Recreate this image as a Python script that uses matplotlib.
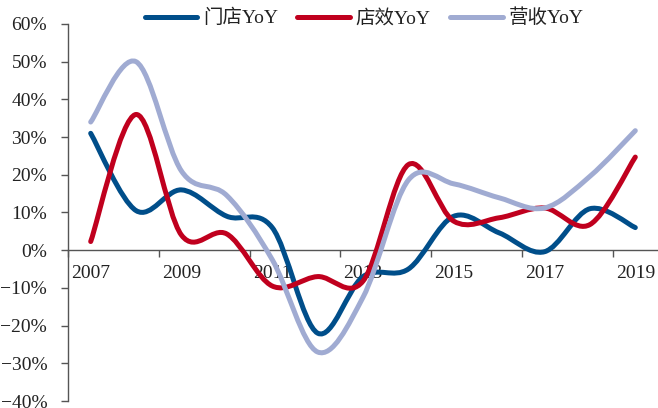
import matplotlib
matplotlib.use("Agg")
import matplotlib.pyplot as plt
from matplotlib.path import Path
from matplotlib.patches import PathPatch
from matplotlib.lines import Line2D
from matplotlib.ticker import FixedLocator, FuncFormatter

plt.rcParams['font.family'] = ['Liberation Serif', 'Noto Sans CJK SC']

years = [2007, 2008, 2009, 2010, 2011, 2012, 2013, 2014, 2015, 2016, 2017, 2018, 2019]
labels_shown = ['2007', '2009', '2011', '2013', '2015', '2017', '2019']

store_yoy = [31, 10.5, 16, 9, 6, -22, -7, -5, 9, 4.6, -0.4, 11, 6]
sales_per_store_yoy = [2.3, 36, 4, 4.3, -9.5, -7, -8.2, 22.7, 7.7, 8.6, 11.2, 6.8, 24.7]
revenue_yoy = [34, 50, 21, 14.5, -2.5, -27, -12.5, 18.6, 17.6, 13.9, 11.2, 19.6, 31.7]

series_names = ['门店YoY', '店效YoY', '营收YoY']
series_colors = ['#004E8A', '#C0001E', '#A0ABD2']


def smooth_path(xs, ys):
    """Cubic Bezier path through all points (Catmull-Rom style tangents)."""
    pts = list(zip(xs, ys))
    n = len(pts)
    verts = [pts[0]]
    codes = [Path.MOVETO]
    for i in range(n - 1):
        p0 = pts[i - 1] if i > 0 else pts[i]
        p1 = pts[i]
        p2 = pts[i + 1]
        p3 = pts[i + 2] if i + 2 < n else pts[i + 1]
        c1 = (p1[0] + (p2[0] - p0[0]) / 6.0, p1[1] + (p2[1] - p0[1]) / 6.0)
        c2 = (p2[0] - (p3[0] - p1[0]) / 6.0, p2[1] - (p3[1] - p1[1]) / 6.0)
        verts += [c1, c2, p2]
        codes += [Path.CURVE4] * 3
    return Path(verts, codes)


fig = plt.figure(figsize=(6.58, 4.08), dpi=100)
ax = fig.add_axes([68 / 658, 7 / 408, 590 / 658, 377 / 408])

xs = list(range(len(years)))
handles = []
for vals, name, color in zip([store_yoy, sales_per_store_yoy, revenue_yoy], series_names, series_colors):
    patch = PathPatch(smooth_path(xs, vals), facecolor='none', edgecolor=color,
                      lw=3.6, capstyle='round', joinstyle='round', transform=ax.transData, zorder=3)
    ax.add_patch(patch)
    handles.append(Line2D([], [], color=color, lw=3.6, solid_capstyle='round', label=name))

ax.set_xlim(-0.5, len(years) - 0.5)
ax.set_ylim(-40, 60)

for side in ['top', 'right']:
    ax.spines[side].set_visible(False)
ax.spines['bottom'].set_position(('data', 0))
axis_color = '#555555'
ax.spines['bottom'].set_color(axis_color)
ax.spines['left'].set_color(axis_color)
ax.spines['bottom'].set_linewidth(1.0)
ax.spines['left'].set_linewidth(1.0)

ax.set_yticks(range(-40, 61, 10))
ax.yaxis.set_major_formatter(FuncFormatter(lambda v, p: f"{int(v)}%".replace('-', '\u2212')))
ax.tick_params(axis='y', direction='out', length=5, width=1, color=axis_color,
               labelsize=14, pad=10, labelcolor='#222222')

# boundary tick marks every two categories, year labels centered on categories
ax.xaxis.set_major_locator(FixedLocator([-0.5 + 2 * k for k in range(7)]))
ax.xaxis.set_major_formatter(FuncFormatter(lambda v, p: ''))
ax.xaxis.set_minor_locator(FixedLocator(list(range(0, len(years), 2))))
ax.set_xticklabels(labels_shown, minor=True)
ax.tick_params(axis='x', which='major', direction='out', length=5, width=1, color=axis_color)
ax.tick_params(axis='x', which='minor', length=0, pad=11, labelsize=14, labelcolor='#222222')

leg = fig.legend(handles=handles, loc='center', bbox_to_anchor=(364 / 658, 1 - 18 / 408),
                 ncol=3, frameon=False, fontsize=14, handlelength=2.7,
                 handletextpad=0.3, columnspacing=1.0)
for t in leg.get_texts():
    t.set_color('#222222')

fig.savefig('out.png', dpi=100)
